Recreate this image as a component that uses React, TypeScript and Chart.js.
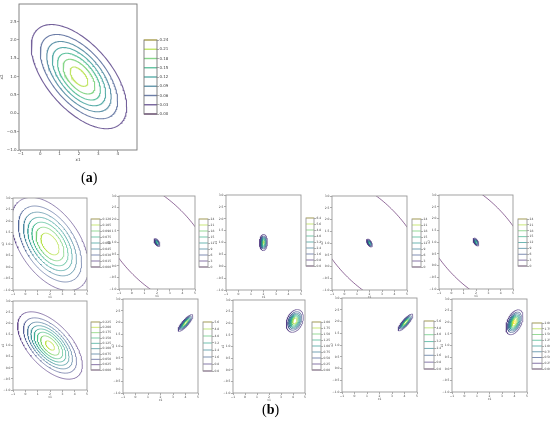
import React, { useEffect, useRef } from "react";
import { Chart, registerables } from "chart.js";
Chart.register(...registerables);
Chart.defaults.font.family = "DejaVu Sans";

// ---------------- data ----------------
// axis ticks / ranges
const xTicksA = [-1, 0, 1, 2, 3, 4];
const yTicksA = [-1.0, -0.5, 0.0, 0.5, 1.0, 1.5, 2.0, 2.5];
const xRangeA = [-1.09, 4.99];
const yRangeA = [-1.0, 2.98];
const xTicksB = [-1, 0, 1, 2, 3, 4, 5];
const yTicksB = [-1.0, -0.5, 0.0, 0.5, 1.0, 1.5, 2.0, 2.5, 3.0];
const xRangeB = [-1, 5];
const yRangeB = [-1, 3];

// Gaussian parameters of each contour set: [meanX, meanY, sdX, sdY, rho]
const gaussA = [2, 1, 1.2247, 0.7071, -0.5774];
const gaussB1 = [2, 1, 1.549, 1.0, -0.484];
const gaussTight = [2, 1, 0.125, 0.09, -0.6];
const gaussRound = [2, 1, 0.16, 0.17, 0.05];
const gaussB6 = [2, 1, 1.273, 0.735, -0.5774];
const gaussNarrow = [4.0, 1.98, 0.3, 0.18, 0.85];
const gaussNarrow2 = [4.08, 1.96, 0.3, 0.18, 0.85];
const gaussOval = [4.15, 2.1, 0.35, 0.24, 0.3];
const gaussOval2 = [4.0, 2.0, 0.33, 0.26, 0.45];
const tailLevel = [0.00016];

// contour / colorbar levels
const levelsA = [0, 0.03, 0.06, 0.09, 0.12, 0.15, 0.18, 0.21, 0.24];
const levelsB1 = [0, 0.015, 0.03, 0.045, 0.06, 0.075, 0.09, 0.105, 0.12];
const levelsTight = [0, 3, 6, 9, 12, 15, 18, 21, 24];
const levelsRound = [0, 0.8, 1.6, 2.4, 3.2, 4.0, 4.8, 5.6, 6.4];
const levelsB6 = [0, 0.025, 0.05, 0.075, 0.1, 0.125, 0.15, 0.175, 0.2, 0.225];
const levelsNarrow = [0, 0.8, 1.6, 2.4, 3.2, 4.0, 4.8, 5.6];
const levelsOval = [0, 0.25, 0.5, 0.75, 1.0, 1.25, 1.5, 1.75, 2.0];

// ---------------- helpers ----------------
const VIRIDIS = ["#440154", "#482475", "#414487", "#355f8d", "#2a788e", "#21918c", "#22a884", "#44bf70", "#7ad151", "#bddf26", "#fde725"];
function hex(c: string) {
  return [parseInt(c.slice(1, 3), 16), parseInt(c.slice(3, 5), 16), parseInt(c.slice(5, 7), 16)];
}
function viridis(t: number, alpha = 1) {
  const tt = Math.max(0, Math.min(1, t)) * (VIRIDIS.length - 1);
  const i = Math.min(VIRIDIS.length - 2, Math.floor(tt));
  const f = tt - i;
  const a = hex(VIRIDIS[i]), b = hex(VIRIDIS[i + 1]);
  const c = a.map((v, k) => Math.round(v + (b[k] - v) * f));
  return `rgba(${c[0]},${c[1]},${c[2]},${alpha})`;
}
function contour(g: number[], level: number, n = 180) {
  const [mx, my, sx, sy, r] = g;
  const q = Math.sqrt(1 - r * r);
  const peak = 1 / (2 * Math.PI * sx * sy * q);
  if (!(level > 0 && level < peak)) return null;
  const d = Math.sqrt(2 * Math.log(peak / level));
  const pts: { x: number; y: number }[] = [];
  for (let i = 0; i <= n; i++) {
    const t = (2 * Math.PI * i) / n;
    pts.push({ x: mx + d * sx * Math.cos(t), y: my + d * sy * (r * Math.cos(t) + q * Math.sin(t)) });
  }
  return pts;
}
const minus = (s: string) => s.replace("-", "\u2212");
const fmt = (dec: number) => (v: number) => minus(Number(v).toFixed(dec));

type Panel = {
  box: number[]; cb: number[]; xr: number[]; yr: number[]; xt: number[]; yt: number[];
  sets: { g: number[]; lv: number[] }[]; lv: number[];
  fx: number; fy: number; fc: number; fs: number; padL: number; padB: number; labW: number;
  lw: number; alpha: number; frameColor: string;
};

const big = { xr: xRangeA, yr: yRangeA, xt: xTicksA, yt: yTicksA, fx: 0, fy: 1, fs: 4, padL: 19, padB: 12, labW: 17, lw: 1.1, alpha: 0.75, frameColor: "#777" };
const small = { xr: xRangeB, yr: yRangeB, xt: xTicksB, yt: yTicksB, fx: 0, fy: 1, fs: 3, padL: 12, padB: 9, labW: 12, lw: 0.9, alpha: 0.65, frameColor: "#999" };

const panels: Panel[] = [
  { ...big, box: [19, 4, 137, 150], cb: [144, 40, 157, 114], sets: [{ g: gaussA, lv: levelsA }], lv: levelsA, fc: 2 },
  { ...small, box: [13, 198, 87, 290], cb: [91, 219, 100, 267], sets: [{ g: gaussB1, lv: levelsB1 }], lv: levelsB1, fc: 3 },
  { ...small, box: [119, 196, 195, 289], cb: [199, 219, 208, 267], sets: [{ g: gaussTight, lv: levelsTight }, { g: gaussA, lv: tailLevel }], lv: levelsTight, fc: 0 },
  { ...small, box: [226, 195, 301, 290], cb: [306, 218, 314, 266], sets: [{ g: gaussRound, lv: levelsRound }], lv: levelsRound, fc: 1 },
  { ...small, box: [332, 196, 407, 290], cb: [412, 219, 421, 267], sets: [{ g: gaussTight, lv: levelsTight }, { g: gaussA, lv: tailLevel }], lv: levelsTight, fc: 0 },
  { ...small, box: [439, 195, 513, 289], cb: [518, 219, 527, 266], sets: [{ g: gaussTight, lv: levelsTight }, { g: gaussA, lv: tailLevel }], lv: levelsTight, fc: 0 },
  { ...small, box: [13, 301, 87, 390], cb: [91, 322, 100, 370], sets: [{ g: gaussB6, lv: levelsB6 }], lv: levelsB6, fc: 3 },
  { ...small, box: [123, 299, 198, 393], cb: [203, 322, 212, 371], sets: [{ g: gaussNarrow, lv: levelsNarrow }], lv: levelsNarrow, fc: 1 },
  { ...small, box: [233, 300, 305, 393], cb: [312, 322, 321, 370], sets: [{ g: gaussOval, lv: levelsOval }], lv: levelsOval, fc: 2 },
  { ...small, box: [342, 298, 417, 392], cb: [424, 321, 434, 369], sets: [{ g: gaussNarrow2, lv: levelsNarrow }], lv: levelsNarrow, fc: 1 },
  { ...small, box: [452, 299, 527, 392], cb: [532, 323, 542, 369], sets: [{ g: gaussOval2, lv: levelsOval }], lv: levelsOval, fc: 2 },
];

function framePlugin(color: string) {
  return {
    id: "frame",
    afterDatasetsDraw(chart: any) {
      const { ctx, chartArea: a } = chart;
      ctx.save();
      ctx.strokeStyle = color;
      ctx.lineWidth = 0.9;
      ctx.strokeRect(a.left, a.top, a.right - a.left, a.bottom - a.top);
      ctx.restore();
    },
  };
}

function ContourPanel({ p }: { p: Panel }) {
  const axRef = useRef<HTMLCanvasElement>(null);
  const cbRef = useRef<HTMLCanvasElement>(null);
  const [L, T, R, B] = p.box;
  const padT = 3, padR = 4;
  const W = R - L + p.padL + padR;
  const H = B - T + padT + p.padB;
  const [cL, cT, cR, cB] = p.cb;
  const cW = cR - cL + 1 + p.labW;
  const cH = cB - cT + 6;
  useEffect(() => {
    const lmin = p.lv[0], lmax = p.lv[p.lv.length - 1];
    const datasets: any[] = [];
    p.sets.forEach((s) => {
      s.lv.forEach((l) => {
        const pts = contour(s.g, l);
        if (!pts) return;
        datasets.push({
          data: pts, showLine: true, pointRadius: 0, borderWidth: p.lw,
          borderColor: viridis((l - lmin) / (lmax - lmin), p.alpha), fill: false, clip: 0,
        });
      });
    });
    const tickFont = { size: p.fs };
    const grid = { display: true, drawOnChartArea: false, drawTicks: true, tickLength: 2, color: "#777", lineWidth: 0.6 };
    const ax = new Chart(axRef.current!, {
      type: "scatter",
      data: { datasets },
      options: {
        animation: false, responsive: false, devicePixelRatio: 1, events: [],
        layout: { padding: { left: 0, top: padT, right: padR, bottom: 0 } },
        plugins: { legend: { display: false }, tooltip: { enabled: false } },
        scales: {
          x: {
            type: "linear", min: p.xr[0], max: p.xr[1],
            afterBuildTicks: (s: any) => { s.ticks = p.xt.map((v) => ({ value: v })); },
            afterFit: (s: any) => { s.height = p.padB; s.paddingLeft = 0; s.paddingRight = 0; },
            ticks: { font: tickFont, color: "#444", padding: 0, maxRotation: 0, autoSkip: false, callback: (v: any) => fmt(p.fx)(v) },
            grid, border: { display: false },
            title: { display: true, text: "x1", font: tickFont, color: "#444", padding: { top: 0, bottom: 0 } },
          },
          y: {
            type: "linear", min: p.yr[0], max: p.yr[1],
            afterBuildTicks: (s: any) => { s.ticks = p.yt.map((v) => ({ value: v })); },
            afterFit: (s: any) => { s.width = p.padL; s.paddingTop = 0; s.paddingBottom = 0; },
            ticks: { font: tickFont, color: "#444", padding: 0.5, autoSkip: false, callback: (v: any) => fmt(p.fy)(v) },
            grid, border: { display: false },
            title: { display: true, text: "x2", font: tickFont, color: "#444", padding: { top: 0, bottom: 0 } },
          },
        },
      } as any,
      plugins: [framePlugin(p.frameColor)],
    });
    const cbSets = p.lv.map((l) => ({
      data: [{ x: 0, y: l }, { x: 1, y: l }], showLine: true, pointRadius: 0,
      borderWidth: p.fs > 3 ? 1.4 : 1.0, borderColor: viridis((l - lmin) / (lmax - lmin), p.alpha), clip: 1,
    }));
    const cb = new Chart(cbRef.current!, {
      type: "scatter",
      data: { datasets: cbSets },
      options: {
        animation: false, responsive: false, devicePixelRatio: 1, events: [],
        layout: { padding: { left: 1, top: 3, right: 0, bottom: 3 } },
        plugins: { legend: { display: false }, tooltip: { enabled: false } },
        scales: {
          x: { type: "linear", min: 0, max: 1, display: false },
          y: {
            type: "linear", position: "right", min: lmin, max: lmax,
            afterBuildTicks: (s: any) => { s.ticks = p.lv.map((v) => ({ value: v })); },
            afterFit: (s: any) => { s.width = p.labW; s.paddingTop = 0; s.paddingBottom = 0; },
            ticks: { font: tickFont, color: "#444", padding: 0.5, autoSkip: false, callback: (v: any) => fmt(p.fc)(v) },
            grid, border: { display: false },
          },
        },
      } as any,
      plugins: [framePlugin(p.frameColor)],
    });
    return () => { ax.destroy(); cb.destroy(); };
  }, []);
  return (
    <>
      <canvas ref={axRef} width={W} height={H} style={{ position: "absolute", left: L - p.padL, top: T - padT, width: W, height: H }} />
      <canvas ref={cbRef} width={cW} height={cH} style={{ position: "absolute", left: cL - 1, top: cT - 3, width: cW, height: cH }} />
    </>
  );
}

export default function App() {
  const lab = { position: "absolute" as const, fontFamily: "'Liberation Serif', 'DejaVu Serif', serif", fontSize: 14, color: "#000", lineHeight: "14px" };
  return (
    <div style={{ position: "absolute", left: 0, top: 0, width: 550, height: 427, overflow: "hidden", background: "#fff" }}>
      {panels.map((p, i) => (
        <ContourPanel key={i} p={p} />
      ))}
      <div style={{ ...lab, left: 81, top: 171 }}>(<b>a</b>)</div>
      <div style={{ ...lab, left: 262, top: 403 }}>(<b>b</b>)</div>
    </div>
  );
}
